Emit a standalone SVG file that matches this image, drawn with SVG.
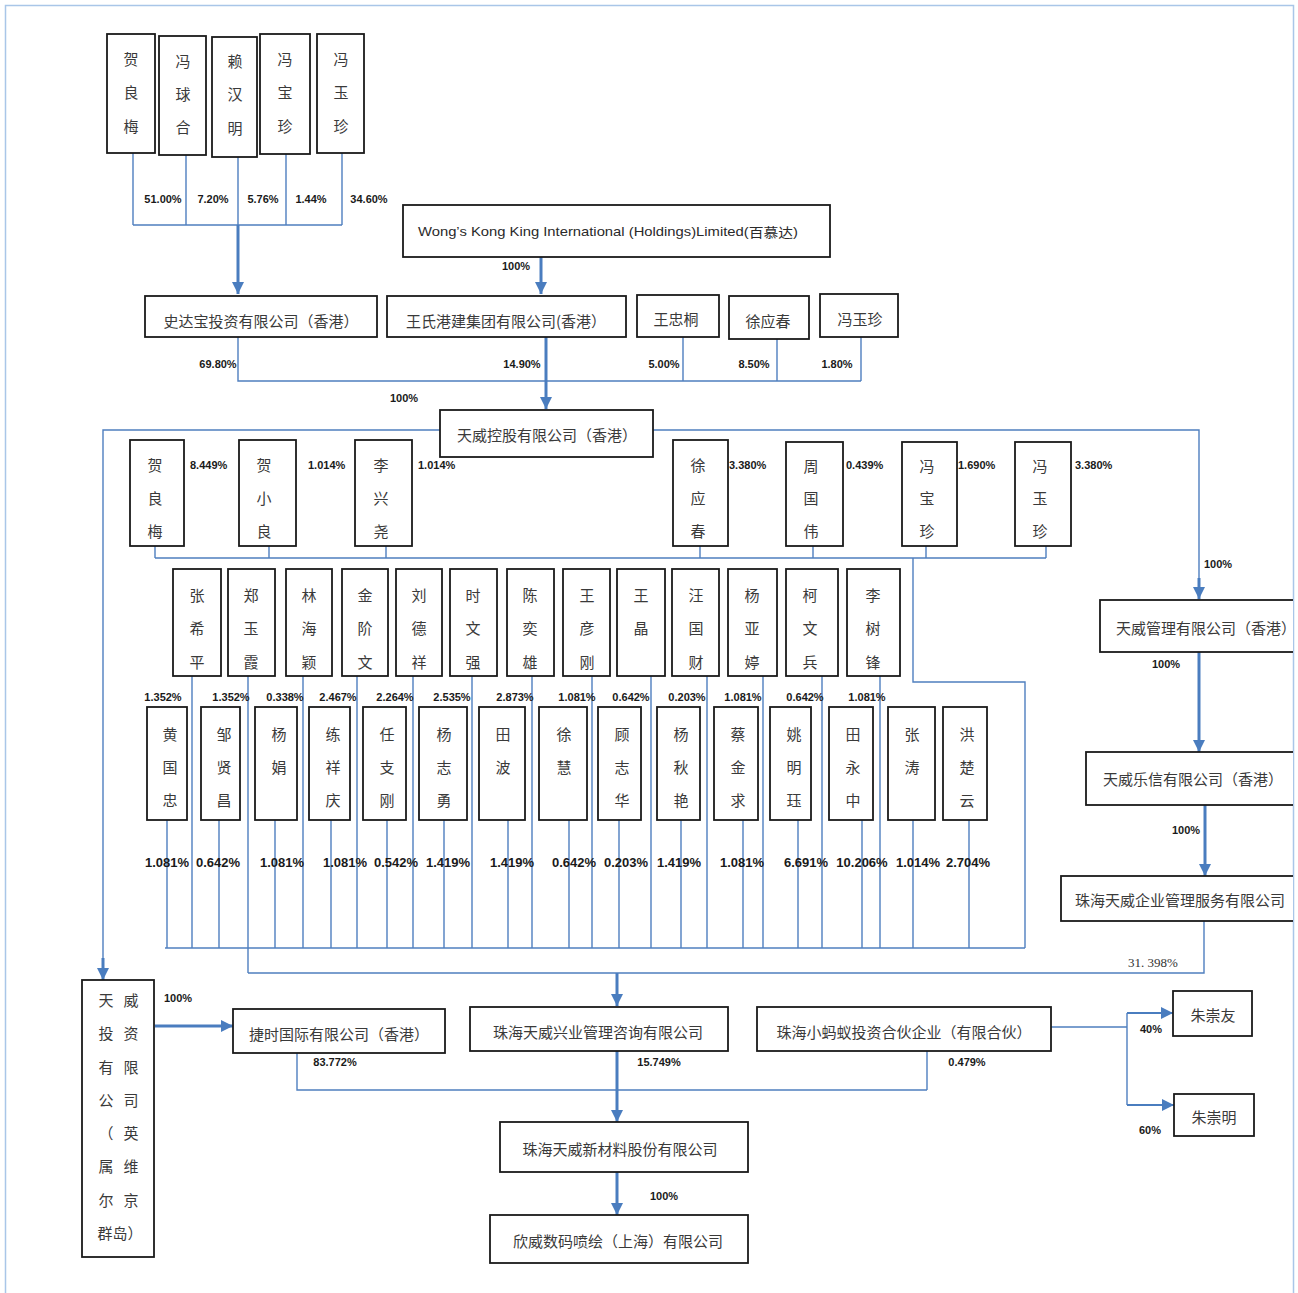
<svg xmlns="http://www.w3.org/2000/svg" width="1298" height="1293" viewBox="0 0 1298 1293">
<style>
.bx{fill:#fff;stroke:#1a1a1a;stroke-width:1.8}
.t{font-family:"Noto Sans CJK SC","Noto Sans CJK TC",sans-serif;font-size:15px;fill:#3a3a3a;text-anchor:middle;dominant-baseline:central}
.ts{font-family:"Noto Sans CJK SC",sans-serif;font-size:15px;fill:#3a3a3a;dominant-baseline:central}
.p{font-family:"Liberation Sans",Arial,sans-serif;font-weight:bold;font-size:11px;fill:#1a1a1a;text-anchor:middle;dominant-baseline:central}
.ps{font-family:"Liberation Sans",Arial,sans-serif;font-weight:bold;font-size:11px;fill:#1a1a1a;dominant-baseline:central}
.pl{font-family:"Liberation Sans",Arial,sans-serif;font-weight:bold;font-size:13px;fill:#1a1a1a;text-anchor:middle;dominant-baseline:central}
.ln{stroke:#4f7fbf;stroke-width:1.4;fill:none}
.ar{stroke:#4a7dbf;stroke-width:3;fill:none;marker-end:url(#ah)}
.am{stroke:#4a7dbf;stroke-width:2;fill:none;marker-end:url(#ah2)}
</style>
<defs>
<marker id="ah" viewBox="0 0 10 10" refX="10" refY="5" markerWidth="4" markerHeight="4" orient="auto"><path d="M0,0 L10,5 L0,10 z" fill="#4a7dbf"/></marker>
<marker id="ah2" viewBox="0 0 10 10" refX="10" refY="5" markerWidth="6" markerHeight="6" orient="auto"><path d="M0,0 L10,5 L0,10 z" fill="#4a7dbf"/></marker>
<clipPath id="clipR"><rect x="0" y="0" width="1293" height="1293"/></clipPath>
</defs>
<rect x="0" y="0" width="1298" height="1293" fill="#fff"/>
<rect x="5.5" y="5.5" width="1288" height="1295" fill="none" stroke="#a9c6e8" stroke-width="1.5"/>

<g id="connectors">
<path class="ln" d="M133,153 V225 M186,155 V225 M238,157 V225 M286,154 V225 M342,153 V225 M133,225 H342"/>
<path class="ar" d="M238,225 V294"/>
<path class="ar" d="M541,257 V294"/>
<path class="ln" d="M238,337 V381 H861 M683,337 V381 M777,339 V381 M861,337 V381"/>
<path class="ar" d="M546,337 V409"/>
<path class="ln" d="M440,430 H103 V960"/>
<path class="ar" d="M103,958 V980"/>
<path class="ln" d="M653,430 H1199 V580"/>
<path class="ar" d="M1199,578 V599"/>
<path class="ln" d="M155,546 V558 M269,546 V558 M386,546 V558 M700,546 V558 M813,546 V558 M926,546 V558 M1046,546 V558 M155,558 H1046"/>
<path class="ln" d="M913,558 V682 H1025 V948"/>
<path class="ln" d="M192,676 V948 M248,676 V973 M303,676 V948 M357,676 V948 M413,676 V948 M472,676 V948 M532,676 V948 M592,676 V948 M651,676 V948 M707,676 V948 M763,676 V948 M822,676 V948 M880,676 V948"/>
<path class="ln" d="M167,820 V948 M219,820 V948 M275,820 V948 M331,820 V948 M387,820 V948 M444,820 V948 M508,820 V948 M569,820 V948 M619,820 V948 M681,820 V948 M743,820 V948 M798,820 V948 M862,820 V948 M913,820 V948 M969,820 V948"/>
<path class="ln" d="M165,948 H1025"/>
<path class="ln" d="M1204,921 V973 H248"/>
<path class="ar" d="M617,973 V1006"/>
<path class="ar" d="M1199,652 V752"/>
<path class="ar" d="M1205,805 V876"/>
<path class="ar" d="M155,1026 H233"/>
<path class="ln" d="M297,1053 V1090 H927 M927,1051 V1090"/>
<path class="ar" d="M617,1051 V1122"/>
<path class="ar" d="M617,1172 V1215"/>
<path class="ln" d="M1051,1027 H1127 M1127,1013 V1105"/>
<path class="am" d="M1127,1013 H1173"/>
<path class="am" d="M1127,1105 H1174"/>
</g>

<g id="n_hlm1"><rect class="bx" x="107" y="34" width="48" height="119"/><text class="t"><tspan x="131" y="58">贺</tspan><tspan x="131" y="91">良</tspan><tspan x="131" y="125">梅</tspan></text></g>
<g id="n_fqh"><rect class="bx" x="159" y="36" width="47" height="119"/><text class="t"><tspan x="183" y="60">冯</tspan><tspan x="183" y="93">球</tspan><tspan x="183" y="126">合</tspan></text></g>
<g id="n_lhm"><rect class="bx" x="212" y="37" width="45" height="120"/><text class="t"><tspan x="235" y="60">赖</tspan><tspan x="235" y="93">汉</tspan><tspan x="235" y="127">明</tspan></text></g>
<g id="n_fbz1"><rect class="bx" x="260" y="34" width="50" height="120"/><text class="t"><tspan x="285" y="58">冯</tspan><tspan x="285" y="91">宝</tspan><tspan x="285" y="125">珍</tspan></text></g>
<g id="n_fyz1"><rect class="bx" x="317" y="34" width="47" height="119"/><text class="t"><tspan x="341" y="58">冯</tspan><tspan x="341" y="91">玉</tspan><tspan x="341" y="125">珍</tspan></text></g>
<g id="lbl_top">
<text class="p" x="163" y="199">51.00%</text><text class="p" x="213" y="199">7.20%</text><text class="p" x="263" y="199">5.76%</text><text class="p" x="311" y="199">1.44%</text><text class="p" x="369" y="199">34.60%</text>
</g>

<g id="n_wong"><rect class="bx" x="403" y="205" width="427" height="52"/><text x="418" y="231" font-family="Liberation Sans,Arial,sans-serif" font-size="13" fill="#2a2a2a" dominant-baseline="central" textLength="380" lengthAdjust="spacingAndGlyphs">Wong’s Kong King International (Holdings)Limited(<tspan font-family="Noto Sans CJK SC,sans-serif">百慕达</tspan>)</text></g>
<text class="p" x="516" y="266">100%</text>

<g id="n_sdb"><rect class="bx" x="145" y="296" width="232" height="41"/><text class="t" x="261" y="320">史达宝投资有限公司（香港）</text></g>
<g id="n_wsgj"><rect class="bx" x="387" y="296" width="239" height="41"/><text class="t" x="506" y="320">王氏港建集团有限公司(香港）</text></g>
<g id="n_wzt"><rect class="bx" x="637" y="295" width="82" height="42"/><text class="t" x="676" y="318">王忠桐</text></g>
<g id="n_xyc1"><rect class="bx" x="729" y="296" width="80" height="43"/><text class="t" x="768" y="320">徐应春</text></g>
<g id="n_fyz2"><rect class="bx" x="820" y="294" width="78" height="43"/><text class="t" x="860" y="318">冯玉珍</text></g>
<g id="lbl_row2">
<text class="p" x="218" y="364">69.80%</text><text class="p" x="522" y="364">14.90%</text><text class="p" x="664" y="364">5.00%</text><text class="p" x="754" y="364">8.50%</text><text class="p" x="837" y="364">1.80%</text><text class="p" x="404" y="398">100%</text>
</g>

<g id="n_twkg"><rect class="bx" x="440" y="410" width="213" height="47"/><text class="t" x="547" y="434">天威控股有限公司（香港）</text></g>

<g id="n_hlm2"><rect class="bx" x="130" y="440" width="54" height="106"/><text class="t"><tspan x="155" y="464">贺</tspan><tspan x="155" y="497">良</tspan><tspan x="155" y="530">梅</tspan></text></g>
<g id="n_hxl"><rect class="bx" x="239" y="440" width="57" height="106"/><text class="t"><tspan x="264" y="464">贺</tspan><tspan x="264" y="497">小</tspan><tspan x="264" y="530">良</tspan></text></g>
<g id="n_lxy"><rect class="bx" x="355" y="440" width="57" height="106"/><text class="t"><tspan x="381" y="464">李</tspan><tspan x="381" y="497">兴</tspan><tspan x="381" y="530">尧</tspan></text></g>
<g id="n_xyc2"><rect class="bx" x="673" y="440" width="55" height="106"/><text class="t"><tspan x="698" y="464">徐</tspan><tspan x="698" y="497">应</tspan><tspan x="698" y="530">春</tspan></text></g>
<g id="n_zgw"><rect class="bx" x="786" y="442" width="57" height="104"/><text class="t"><tspan x="811" y="465">周</tspan><tspan x="811" y="497">国</tspan><tspan x="811" y="530">伟</tspan></text></g>
<g id="n_fbz2"><rect class="bx" x="902" y="442" width="55" height="104"/><text class="t"><tspan x="927" y="465">冯</tspan><tspan x="927" y="497">宝</tspan><tspan x="927" y="530">珍</tspan></text></g>
<g id="n_fyz3"><rect class="bx" x="1015" y="442" width="56" height="104"/><text class="t"><tspan x="1040" y="465">冯</tspan><tspan x="1040" y="497">玉</tspan><tspan x="1040" y="530">珍</tspan></text></g>
<g id="lbl_row3">
<text class="ps" x="190" y="465">8.449%</text><text class="ps" x="308" y="465">1.014%</text><text class="ps" x="418" y="465">1.014%</text><text class="ps" x="729" y="465">3.380%</text><text class="ps" x="846" y="465">0.439%</text><text class="ps" x="958" y="465">1.690%</text><text class="ps" x="1075" y="465">3.380%</text>
</g>

<g id="n_zxp"><rect class="bx" x="173" y="569" width="48" height="107"/><text class="t"><tspan x="197" y="594">张</tspan><tspan x="197" y="627">希</tspan><tspan x="197" y="661">平</tspan></text></g>
<g id="n_zyx"><rect class="bx" x="228" y="569" width="47" height="107"/><text class="t"><tspan x="251" y="594">郑</tspan><tspan x="251" y="627">玉</tspan><tspan x="251" y="661">霞</tspan></text></g>
<g id="n_lhy"><rect class="bx" x="286" y="569" width="46" height="107"/><text class="t"><tspan x="309" y="594">林</tspan><tspan x="309" y="627">海</tspan><tspan x="309" y="661">颖</tspan></text></g>
<g id="n_jjw"><rect class="bx" x="342" y="569" width="46" height="107"/><text class="t"><tspan x="365" y="594">金</tspan><tspan x="365" y="627">阶</tspan><tspan x="365" y="661">文</tspan></text></g>
<g id="n_ldx"><rect class="bx" x="396" y="569" width="46" height="107"/><text class="t"><tspan x="419" y="594">刘</tspan><tspan x="419" y="627">德</tspan><tspan x="419" y="661">祥</tspan></text></g>
<g id="n_swq"><rect class="bx" x="450" y="569" width="47" height="107"/><text class="t"><tspan x="473" y="594">时</tspan><tspan x="473" y="627">文</tspan><tspan x="473" y="661">强</tspan></text></g>
<g id="n_cyx"><rect class="bx" x="507" y="569" width="47" height="107"/><text class="t"><tspan x="530" y="594">陈</tspan><tspan x="530" y="627">奕</tspan><tspan x="530" y="661">雄</tspan></text></g>
<g id="n_wyg"><rect class="bx" x="563" y="569" width="47" height="107"/><text class="t"><tspan x="587" y="594">王</tspan><tspan x="587" y="627">彦</tspan><tspan x="587" y="661">刚</tspan></text></g>
<g id="n_wj"><rect class="bx" x="617" y="569" width="48" height="107"/><text class="t"><tspan x="641" y="594">王</tspan><tspan x="641" y="627">晶</tspan></text></g>
<g id="n_wgc"><rect class="bx" x="672" y="569" width="47" height="107"/><text class="t"><tspan x="696" y="594">汪</tspan><tspan x="696" y="627">国</tspan><tspan x="696" y="661">财</tspan></text></g>
<g id="n_yyt"><rect class="bx" x="728" y="569" width="49" height="107"/><text class="t"><tspan x="752" y="594">杨</tspan><tspan x="752" y="627">亚</tspan><tspan x="752" y="661">婷</tspan></text></g>
<g id="n_kwb"><rect class="bx" x="786" y="569" width="52" height="107"/><text class="t"><tspan x="810" y="594">柯</tspan><tspan x="810" y="627">文</tspan><tspan x="810" y="661">兵</tspan></text></g>
<g id="n_lsf"><rect class="bx" x="847" y="569" width="53" height="107"/><text class="t"><tspan x="873" y="594">李</tspan><tspan x="873" y="627">树</tspan><tspan x="873" y="661">锋</tspan></text></g>
<g id="lbl_row3b">
<text class="p" x="163" y="697">1.352%</text><text class="p" x="231" y="697">1.352%</text><text class="p" x="285" y="697">0.338%</text><text class="p" x="338" y="697">2.467%</text><text class="p" x="395" y="697">2.264%</text><text class="p" x="452" y="697">2.535%</text><text class="p" x="515" y="697">2.873%</text><text class="p" x="577" y="697">1.081%</text><text class="p" x="631" y="697">0.642%</text><text class="p" x="687" y="697">0.203%</text><text class="p" x="743" y="697">1.081%</text><text class="p" x="805" y="697">0.642%</text><text class="p" x="867" y="697">1.081%</text>
</g>

<g id="n_hgz"><rect class="bx" x="147" y="707" width="40" height="113"/><text class="t"><tspan x="170" y="733">黄</tspan><tspan x="170" y="766">国</tspan><tspan x="170" y="799">忠</tspan></text></g>
<g id="n_zxc"><rect class="bx" x="201" y="707" width="39" height="113"/><text class="t"><tspan x="224" y="733">邹</tspan><tspan x="224" y="766">贤</tspan><tspan x="224" y="799">昌</tspan></text></g>
<g id="n_yj"><rect class="bx" x="255" y="707" width="42" height="113"/><text class="t"><tspan x="279" y="733">杨</tspan><tspan x="279" y="766">娟</tspan></text></g>
<g id="n_lxq"><rect class="bx" x="309" y="707" width="41" height="113"/><text class="t"><tspan x="333" y="733">练</tspan><tspan x="333" y="766">祥</tspan><tspan x="333" y="799">庆</tspan></text></g>
<g id="n_rzg"><rect class="bx" x="363" y="707" width="43" height="113"/><text class="t"><tspan x="387" y="733">任</tspan><tspan x="387" y="766">支</tspan><tspan x="387" y="799">刚</tspan></text></g>
<g id="n_yzy"><rect class="bx" x="419" y="707" width="48" height="113"/><text class="t"><tspan x="444" y="733">杨</tspan><tspan x="444" y="766">志</tspan><tspan x="444" y="799">勇</tspan></text></g>
<g id="n_tb"><rect class="bx" x="479" y="707" width="46" height="113"/><text class="t"><tspan x="503" y="733">田</tspan><tspan x="503" y="766">波</tspan></text></g>
<g id="n_xh"><rect class="bx" x="539" y="707" width="48" height="113"/><text class="t"><tspan x="564" y="733">徐</tspan><tspan x="564" y="766">慧</tspan></text></g>
<g id="n_gzh"><rect class="bx" x="598" y="707" width="43" height="113"/><text class="t"><tspan x="622" y="733">顾</tspan><tspan x="622" y="766">志</tspan><tspan x="622" y="799">华</tspan></text></g>
<g id="n_yqy"><rect class="bx" x="657" y="707" width="43" height="113"/><text class="t"><tspan x="681" y="733">杨</tspan><tspan x="681" y="766">秋</tspan><tspan x="681" y="799">艳</tspan></text></g>
<g id="n_cjq"><rect class="bx" x="714" y="707" width="44" height="113"/><text class="t"><tspan x="738" y="733">蔡</tspan><tspan x="738" y="766">金</tspan><tspan x="738" y="799">求</tspan></text></g>
<g id="n_ymj"><rect class="bx" x="770" y="707" width="41" height="113"/><text class="t"><tspan x="794" y="733">姚</tspan><tspan x="794" y="766">明</tspan><tspan x="794" y="799">珏</tspan></text></g>
<g id="n_tyz"><rect class="bx" x="829" y="707" width="44" height="113"/><text class="t"><tspan x="853" y="733">田</tspan><tspan x="853" y="766">永</tspan><tspan x="853" y="799">中</tspan></text></g>
<g id="n_zt"><rect class="bx" x="888" y="707" width="47" height="113"/><text class="t"><tspan x="912" y="733">张</tspan><tspan x="912" y="766">涛</tspan></text></g>
<g id="n_hcy"><rect class="bx" x="943" y="707" width="44" height="113"/><text class="t"><tspan x="967" y="733">洪</tspan><tspan x="967" y="766">楚</tspan><tspan x="967" y="799">云</tspan></text></g>
<g id="lbl_row4">
<text class="pl" x="167" y="862">1.081%</text><text class="pl" x="218" y="862">0.642%</text><text class="pl" x="282" y="862">1.081%</text><text class="pl" x="345" y="862">1.081%</text><text class="pl" x="396" y="862">0.542%</text><text class="pl" x="448" y="862">1.419%</text><text class="pl" x="512" y="862">1.419%</text><text class="pl" x="574" y="862">0.642%</text><text class="pl" x="626" y="862">0.203%</text><text class="pl" x="679" y="862">1.419%</text><text class="pl" x="742" y="862">1.081%</text><text class="pl" x="806" y="862">6.691%</text><text class="pl" x="862" y="862">10.206%</text><text class="pl" x="918" y="862">1.014%</text><text class="pl" x="968" y="862">2.704%</text>
</g>

<g clip-path="url(#clipR)">
<g id="n_twgl"><rect class="bx" x="1100" y="600" width="200" height="52"/><text class="ts" x="1116" y="627" font-size="14.5">天威管理有限公司（香港）</text></g>
<g id="n_twlx"><rect class="bx" x="1086" y="752" width="214" height="53"/><text class="ts" x="1103" y="778">天威乐信有限公司（香港）</text></g>
<g id="n_zhtwqy"><rect class="bx" x="1061" y="876" width="240" height="45"/><text class="ts" x="1075" y="899" font-size="14.8">珠海天威企业管理服务有限公司</text></g>
</g>
<text class="p" x="1218" y="564">100%</text>
<text class="p" x="1166" y="664">100%</text>
<text class="p" x="1186" y="830">100%</text>
<text x="1153" y="962" font-family="Liberation Serif,serif" font-size="13" fill="#333" text-anchor="middle" dominant-baseline="central">31. 398%</text>

<g id="n_twtz"><rect class="bx" x="82" y="980" width="72" height="277"/><text class="t"><tspan x="106" y="999">天</tspan><tspan x="131" y="999">威</tspan><tspan x="106" y="1032">投</tspan><tspan x="131" y="1032">资</tspan><tspan x="106" y="1066">有</tspan><tspan x="131" y="1066">限</tspan><tspan x="106" y="1099">公</tspan><tspan x="131" y="1099">司</tspan><tspan x="106" y="1132">（</tspan><tspan x="131" y="1132">英</tspan><tspan x="106" y="1165">属</tspan><tspan x="131" y="1165">维</tspan><tspan x="106" y="1199">尔</tspan><tspan x="131" y="1199">京</tspan><tspan x="120" y="1232">群岛）</tspan></text></g>
<text class="p" x="178" y="998">100%</text>
<g id="n_js"><rect class="bx" x="233" y="1009" width="212" height="44"/><text class="t" x="339" y="1033">捷时国际有限公司（香港）</text></g>
<text class="p" x="335" y="1062">83.772%</text>
<g id="n_zhtwxy"><rect class="bx" x="470" y="1007" width="258" height="44"/><text class="t" x="598" y="1031">珠海天威兴业管理咨询有限公司</text></g>
<text class="p" x="659" y="1062">15.749%</text>
<g id="n_xmy"><rect class="bx" x="757" y="1007" width="294" height="44"/><text class="t" x="904" y="1031">珠海小蚂蚁投资合伙企业（有限合伙）</text></g>
<text class="p" x="967" y="1062">0.479%</text>
<g id="n_zcy"><rect class="bx" x="1173" y="991" width="79" height="45"/><text class="t" x="1213" y="1014">朱崇友</text></g>
<text class="p" x="1151" y="1029">40%</text>
<g id="n_zcm"><rect class="bx" x="1174" y="1094" width="80" height="42"/><text class="t" x="1214" y="1116">朱崇明</text></g>
<text class="p" x="1150" y="1130">60%</text>
<g id="n_zhtwxcl"><rect class="bx" x="500" y="1122" width="248" height="50"/><text class="t" x="620" y="1148">珠海天威新材料股份有限公司</text></g>
<text class="p" x="664" y="1196">100%</text>
<g id="n_xwsm"><rect class="bx" x="490" y="1215" width="258" height="48"/><text class="t" x="618" y="1240">欣威数码喷绘（上海）有限公司</text></g>
</svg>
